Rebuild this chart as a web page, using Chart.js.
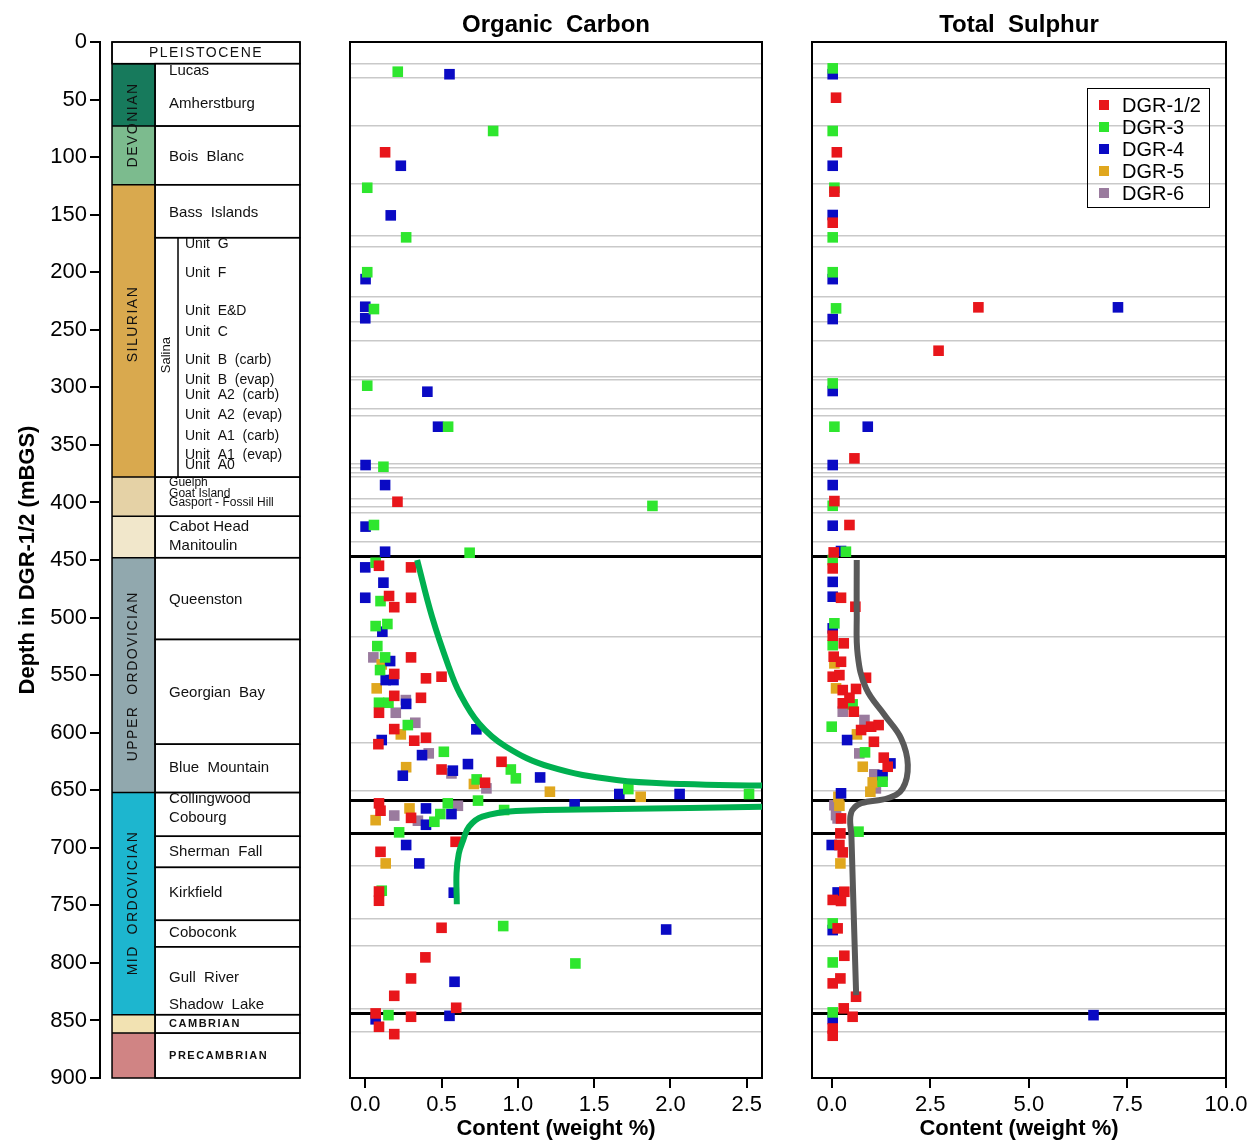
<!DOCTYPE html>
<html>
<head>
<meta charset="utf-8">
<title>DGR organic carbon and total sulphur</title>
<script src="https://cdn.jsdelivr.net/npm/chart.js@4.4.1/dist/chart.umd.min.js"></script>
<style>
  body { margin: 0; background: #fff; }
  #wrap { position: relative; width: 1252px; height: 1143px; overflow: hidden; }
  #wrap canvas { position: absolute; top: 0; }
  #legend { position: absolute; left: 1087px; top: 88px; width: 123px; height: 120px;
            border: 1.5px solid #000; box-sizing: border-box; padding-top: 5px;
            font: 20px 'Liberation Sans', Arial, sans-serif; color: #000; }
  #legend .item { position: relative; height: 22px; line-height: 22px; padding-left: 34px; }
  #legend .item span { position: absolute; left: 11px; top: 6px; width: 10px; height: 10px; }
</style>
</head>
<body>
<div id="wrap">
  <canvas id="column" width="305" height="1143" style="left:0"></canvas>
  <canvas id="organic" width="480" height="1143" style="left:300px"></canvas>
  <canvas id="sulphur" width="472" height="1143" style="left:780px"></canvas>
  <div id="legend"></div>
</div>
<script>
// ---- data -------------------------------------------------------------
const wells = ['DGR-1/2', 'DGR-3', 'DGR-4', 'DGR-5', 'DGR-6'];

// organic carbon, [weight %, depth m]
const orgDgr12 = [[0.13,95.8],[0.211,399.4],[0.09,455],[0.3,456.4],[0.156,481.3],[0.3,482.8],[0.19,491],
  [0.3,534.6],[0.19,549],[0.398,552.8],[0.5,551.4],[0.19,568],[0.365,569.7],[0.09,582.7],[0.19,596.9],
  [0.398,604.4],[0.321,607],[0.086,610],[0.5,632],[0.893,625.3],[0.785,643.5],[0.09,661.4],[0.1,667.8],
  [0.3,674],[0.592,694.8],[0.1,703.5],[0.09,738],[0.09,746],[0.5,769.5],[0.394,795.2],[0.3,813.5],
  [0.19,828.6],[0.596,839],[0.068,843.9],[0.3,846.8],[0.09,855.5],[0.19,861.9]];
const orgDgr3 = [[0.213,25.8],[0.838,77.3],[0.013,126.6],[0.268,169.7],[0.013,200],[0.057,232],[0.013,298.6],
  [0.543,334.2],[0.119,369],[1.882,403],[0.057,419.6],[0.684,443.7],[0.068,452.4],[0.1,485.7],[0.068,507.4],
  [0.145,505.6],[0.079,524.8],[0.13,534.6],[0.097,545.6],[0.09,574],[0.152,574],[0.279,593.4],[0.515,616.6],
  [0.954,632],[0.987,639.7],[0.73,640.6],[1.724,649],[2.515,653.3],[0.492,670.7],[0.453,677.4],[0.541,661.4],
  [0.739,659],[0.91,667.2],[0.222,686.6],[0.108,737.3],[0.904,768],[1.377,800.5],[0.152,845.4]];
const orgDgr4 = [[0.552,28],[0.233,107.5],[0.167,150.6],[0.002,206],[0,230],[0,240],[0.407,303.8],[0.477,334.2],
  [0.002,367.5],[0.13,384.9],[0.002,421],[0.13,442.8],[0,456.4],[0.119,469.7],[0,482.8],[0.112,512.3],
  [0.163,537.8],[0.134,554.3],[0.185,554.3],[0.268,575],[0.728,597.1],[0.108,606.4],[0.372,619.5],
  [0.246,637.4],[0.574,633],[0.673,627.3],[1.146,638.9],[1.665,653.3],[2.06,653.3],[0.398,665.8],[0.398,680],
  [0.565,670.7],[1.372,662.3],[0.268,697.6],[0.354,713.6],[0.58,739],[1.972,771],[0.585,816.4],[0.068,849],
  [0.552,846]];
const orgDgr5 = [[0.108,540.7],[0.075,561.5],[0.233,601.5],[0.268,630],[0.712,644.6],[1.21,651.3],[1.805,655.7],
  [0.29,665.8],[0.068,676],[0.134,713.6]];
const orgDgr6 = [[0.053,534.6],[0.266,571.7],[0.2,582.7],[0.328,591.4],[0.416,618],[0.565,635.4],[0.794,648.4],
  [0.19,672],[0.345,676.5],[0.607,663.5]];

// total sulphur, [weight %, depth m]
const sulDgr12 = [[0.11,48.4],[0.13,95.8],[0.068,130],[0.025,157],[3.72,230.5],[2.71,268.2],[0.576,361.7],
  [0.068,398.8],[0.45,419.6],[0.05,443.4],[0.025,457.3],[0.236,482.8],[0.6,490.6],[0.025,515.8],[0.305,522.4],
  [0.05,534],[0.236,538.4],[0.025,551.4],[0.195,550],[0.87,552.3],[0.28,563],[0.617,562],[0.45,569.7],
  [0.28,574.5],[0.56,581.8],[1.0,594.8],[1.19,593.4],[0.745,597.7],[1.07,607.9],[1.32,621.7],[1.42,629.6],
  [0.236,674.5],[0.22,687.5],[0.28,704],[0.195,697.6],[0.32,738.2],[0.025,745.3],[0.236,746.2],[0.15,770],
  [0.32,793.8],[0.22,813.5],[0.025,817.8],[0.617,829.4],[0.305,839.5],[0.53,846.8],[0.025,857],[0.025,863.3]];
const sulDgr3 = [[0.025,22.9],[0.025,77.3],[0.068,126.6],[0.025,169.7],[0.025,200],[0.11,231.4],[0.025,296.6],
  [0.068,334.2],[0.025,402.9],[0.36,442.8],[0.025,450],[0.068,505],[0.025,524],[0.53,575.4],[0,594.8],
  [0.845,617.1],[1.29,642.6],[0.68,686],[0.025,765.7],[0.025,799.6],[0.025,843]];
const sulDgr4 = [[0.025,28],[0.025,107.5],[0.025,150.3],[0.025,206],[7.26,230.5],[0.025,240.7],[0.025,303.2],
  [0.914,334.2],[0.025,367.5],[0.025,384.9],[0.025,420.2],[0.236,442.2],[0.025,469],[0.025,481.9],
  [0.025,509.4],[0.39,606.4],[1.49,626.7],[1.29,636.9],[0.236,652.7],[0,697.6],[0.15,738.8],[0.025,771.5],
  [0.025,848.8],[6.64,845.4]];
const sulDgr5 = [[0.068,539.8],[0.11,561.5],[0.64,601.5],[0.787,629.6],[1.04,643.2],[0.98,651.3],[0.17,655.7],
  [0.195,663.5],[0.22,713.6]];
const sulDgr6 = [[0.28,581.8],[0.83,589],[0.7,618],[1.08,636.2],[1.12,648.4],[0.068,663],[0.11,671.6],[0.15,674.5]];

// hand drawn trend curves
const orgTrendUpper = [[0.34,450],[0.437,499],[0.547,542.7],[0.62,566],[0.745,592],[0.92,612],[1.207,629.6],
  [1.647,641.2],[2.086,644.6],[2.6,646]];
const orgTrendLower = [[2.6,664.3],[1.647,666.4],[0.987,668],[0.767,673],[0.68,681.7],[0.64,694],[0.613,705],
  [0.598,722],[0.6,749]];
const sulTrend = [[0.635,450],[0.635,495],[0.66,532.6],[0.87,561.5],[1.34,584.7],[1.76,605],[1.93,628],
  [1.8,648.4],[1.42,657],[0.745,661.4],[0.49,670],[0.5,690],[0.62,828]];

// ticks
const depthStep = 50;
const orgTicks = [0, 0.5, 1.0, 1.5, 2.0, 2.5];
const sulTicks = [0, 2.5, 5.0, 7.5, 10.0];

// formation contacts drawn across the panels
const contactDepths = [19, 30.7, 73, 123.4, 168.5, 177.8, 221.5, 243, 259.8, 290.8, 293, 319, 325, 366.6, 369.8,
  374, 377.6, 396.5, 403.7, 409, 434, 517, 608.4, 650.5, 716, 761.4, 785.4, 839.5, 859.9];
const majorDepths = [446.8, 659, 687.8, 844];

// stratigraphic column
const stripTops    = [18.8, 73, 124, 378, 412, 448, 652, 845, 861];
const stripBottoms = [73, 124, 378, 412, 448, 652, 845, 861, 900];
const boxTops      = [18.8, 73, 124, 170, 378, 412, 448, 519, 610, 652, 690, 717, 763, 786, 845, 861];
const boxBottoms   = [73, 124, 170, 378, 412, 448, 519, 610, 652, 690, 717, 763, 786, 845, 861, 900];
const periodNames  = ['DEVONIAN', 'SILURIAN', 'UPPER  ORDOVICIAN', 'MID  ORDOVICIAN'];
const periodMids   = [72, 245, 551, 748];
const formationNames  = ['Lucas', 'Amherstburg', 'Bois  Blanc', 'Bass  Islands', 'Cabot Head', 'Manitoulin',
  'Queenston', 'Georgian  Bay', 'Blue  Mountain', 'Collingwood', 'Cobourg', 'Sherman  Fall', 'Kirkfield',
  'Coboconk', 'Gull  River', 'Shadow  Lake'];
const formationDepths = [25, 54, 100, 148, 421, 438, 485, 565, 631, 657.7, 674, 703.7, 739, 774, 813, 836.7];
const crampedNames  = ['Guelph', 'Goat Island', 'Gasport - Fossil Hill'];
const crampedDepths = [382.5, 392.5, 400.5];
const unitNames  = ['Unit  G', 'Unit  F', 'Unit  E&D', 'Unit  C', 'Unit  B  (carb)', 'Unit  B  (evap)',
  'Unit  A2  (carb)', 'Unit  A2  (evap)', 'Unit  A1  (carb)', 'Unit  A1  (evap)', 'Unit  A0'];
const unitDepths = [175.5, 200.7, 233.7, 252, 276, 293.6, 306.7, 324, 342, 359, 367.5];
const capsNames  = ['PLEISTOCENE', 'CAMBRIAN', 'PRECAMBRIAN'];
const capsDepths = [9.4, 853, 881];
const salinaMid  = 272;

// ---- styles -----------------------------------------------------------
const NARROW = "'Liberation Sans Narrow', 'Liberation Sans', Arial, sans-serif";
const SANS = "'Liberation Sans', Arial, sans-serif";
const wellColors = ['#e8161b', '#2ee62e', '#0a0ac4', '#e0a71e', '#9a7b9e'];
const stripColors = ['#177a5c', '#7cbb8e', '#d9a94e', '#e5d2a6', '#f1e7cb', '#91a8ae', '#1db6cf', '#f2e2b2', '#d08484'];
const STRIP_RIGHT = 0.229, SALINA_RIGHT = 0.351;

const pts = arr => arr.map(([v, d]) => ({ x: v, y: d }));

const columnPlugin = {
  id: 'column',
  afterDraw(chart) {
    const { ctx, scales: { x, y } } = chart;
    const px = v => x.getPixelForValue(v);
    const py = d => y.getPixelForValue(d);
    ctx.save();
    ctx.strokeStyle = '#000';
    ctx.lineWidth = 1.5;
    stripTops.forEach((t, i) => {
      ctx.fillStyle = stripColors[i];
      ctx.fillRect(px(0), py(t), px(STRIP_RIGHT) - px(0), py(stripBottoms[i]) - py(t));
    });
    ctx.strokeRect(px(0), py(0), px(1) - px(0), py(900) - py(0));
    ctx.strokeRect(px(0), py(0), px(1) - px(0), py(18.8) - py(0));
    [18.8, 73, 124, 378, 412, 448, 652, 845, 861].forEach(d => {
      ctx.beginPath(); ctx.moveTo(px(0), py(d)); ctx.lineTo(px(STRIP_RIGHT), py(d)); ctx.stroke();
    });
    ctx.beginPath(); ctx.moveTo(px(STRIP_RIGHT), py(18.8)); ctx.lineTo(px(STRIP_RIGHT), py(900)); ctx.stroke();
    boxTops.forEach((t, i) => {
      ctx.strokeRect(px(STRIP_RIGHT), py(t), px(1) - px(STRIP_RIGHT), py(boxBottoms[i]) - py(t));
    });
    ctx.beginPath(); ctx.moveTo(px(SALINA_RIGHT), py(170)); ctx.lineTo(px(SALINA_RIGHT), py(378)); ctx.stroke();

    ctx.fillStyle = '#111';
    ctx.textBaseline = 'middle';
    // period names, rotated
    ctx.font = '14px ' + SANS;
    ctx.letterSpacing = '1.5px';
    ctx.textAlign = 'center';
    periodNames.forEach((n, i) => {
      ctx.save();
      ctx.translate((px(0) + px(STRIP_RIGHT)) / 2, py(periodMids[i]));
      ctx.rotate(-Math.PI / 2);
      ctx.fillText(n, 0, 0);
      ctx.restore();
    });
    ctx.letterSpacing = '0px';
    ctx.font = '13px ' + SANS;
    ctx.save();
    ctx.translate((px(STRIP_RIGHT) + px(SALINA_RIGHT)) / 2, py(salinaMid));
    ctx.rotate(-Math.PI / 2);
    ctx.fillText('Salina', 0, 0);
    ctx.restore();
    // caps labels
    ctx.font = 'bold 11px ' + SANS;
    ctx.letterSpacing = '1.5px';
    ctx.textAlign = 'left';
    ctx.fillText(capsNames[1], px(STRIP_RIGHT) + 14, py(capsDepths[1]));
    ctx.fillText(capsNames[2], px(STRIP_RIGHT) + 14, py(capsDepths[2]));
    ctx.font = '14px ' + SANS;
    ctx.textAlign = 'center';
    ctx.fillText(capsNames[0], (px(0) + px(1)) / 2, py(capsDepths[0]));
    ctx.letterSpacing = '0px';
    // formations
    ctx.textAlign = 'left';
    ctx.font = '15px ' + SANS;
    formationNames.forEach((n, i) => ctx.fillText(n, px(STRIP_RIGHT) + 14, py(formationDepths[i])));
    ctx.font = '12px ' + SANS;
    crampedNames.forEach((n, i) => ctx.fillText(n, px(STRIP_RIGHT) + 14, py(crampedDepths[i])));
    ctx.font = '14px ' + SANS;
    unitNames.forEach((n, i) => ctx.fillText(n, px(SALINA_RIGHT) + 7, py(unitDepths[i])));
    ctx.restore();
  }
};

const framePlugin = {
  id: 'frame',
  beforeDatasetsDraw(chart) {
    const { ctx, chartArea: a } = chart;
    ctx.save();
    ctx.strokeStyle = '#000';
    ctx.lineWidth = 2;
    ctx.strokeRect(a.left, a.top, a.right - a.left, a.bottom - a.top);
    ctx.restore();
  }
};

// ---- charts -----------------------------------------------------------
new Chart(document.getElementById('column'), {
  type: 'scatter',
  data: { datasets: [] },
  options: {
    responsive: false,
    animation: false,
    layout: { padding: { top: 42, bottom: 65, left: 0, right: 5 } },
    plugins: { legend: { display: false }, tooltip: { enabled: false } },
    scales: {
      x: { type: 'linear', display: false, min: -0.064, max: 1 },
      y: {
        type: 'linear', reverse: true, min: 0, max: 900,
        afterFit: s => { s.width = 100; },
        ticks: { stepSize: depthStep, color: '#000', padding: 3, font: { family: NARROW, size: 22 } },
        grid: { drawOnChartArea: false, drawTicks: true, tickLength: 10, color: '#000', lineWidth: 2 },
        border: { display: true, color: '#000', width: 2 },
        title: { display: true, text: 'Depth in DGR-1/2 (mBGS)', color: '#000',
                 font: { family: NARROW, size: 22, weight: 'bold' }, padding: { top: 15, bottom: 0 } }
      }
    }
  },
  plugins: [columnPlugin]
});

function panel(id, title, sets, trends, trendColor, xMin, xMax, ticks, padL, padR) {
  const datasets = wells.map((w, i) => ({
    label: w,
    data: pts(sets[i]),
    backgroundColor: wellColors[i],
    pointStyle: 'rect',
    pointRadius: 7.5,
    borderWidth: 0
  }));
  trends.forEach(t => datasets.push({
    label: 'trend',
    data: pts(t),
    showLine: true,
    pointRadius: 0,
    borderColor: trendColor,
    borderWidth: 6,
    tension: 0.4,
    order: -1
  }));
  return new Chart(document.getElementById(id), {
    type: 'scatter',
    data: { datasets },
    options: {
      responsive: false,
      animation: false,
      layout: { padding: { top: 0, bottom: 0, left: padL, right: padR } },
      plugins: {
        legend: { display: false },
        tooltip: { enabled: false },
        title: { display: true, text: title, color: '#000',
                 font: { family: NARROW, size: 24, weight: 'bold', lineHeight: 1.25 },
                 padding: { top: 10, bottom: 2 } }
      },
      scales: {
        x: {
          type: 'linear', min: xMin, max: xMax,
          afterBuildTicks: s => { s.ticks = ticks.map(v => ({ value: v })); },
          afterFit: s => { s.height = 65; },
          ticks: { color: '#000', padding: 4, font: { family: NARROW, size: 22 },
                   callback: v => Number(v).toFixed(1) },
          grid: { drawOnChartArea: false, drawTicks: true, tickLength: 10, color: '#000', lineWidth: 2 },
          border: { display: false },
          title: { display: true, text: 'Content (weight %)', color: '#000',
                   font: { family: NARROW, size: 22, weight: 'bold' }, padding: { top: 0, bottom: 1 } }
        },
        y: {
          type: 'linear', reverse: true, min: 0, max: 900,
          afterBuildTicks: s => { s.ticks = contactDepths.concat(majorDepths).map(v => ({ value: v })); },
          afterFit: s => { s.width = 0; },
          ticks: { display: false },
          border: { display: false },
          grid: {
            drawTicks: false,
            color: c => majorDepths.includes(c.tick.value) ? '#000' : '#c9c9c9',
            lineWidth: c => majorDepths.includes(c.tick.value) ? 3 : 1.5
          }
        }
      }
    },
    plugins: [framePlugin]
  });
}

panel('organic', 'Organic  Carbon', [orgDgr12, orgDgr3, orgDgr4, orgDgr5, orgDgr6],
      [orgTrendUpper, orgTrendLower], '#00b050', -0.1, 2.6, orgTicks, 50, 18);
const sulChart = panel('sulphur', 'Total  Sulphur', [sulDgr12, sulDgr3, sulDgr4, sulDgr5, sulDgr6],
      [sulTrend], '#595959', -0.5, 10, sulTicks, 32, 26);

// legend from the sulphur chart's well datasets
const legend = document.getElementById('legend');
sulChart.data.datasets.filter(d => !d.showLine).forEach(d => {
  const row = document.createElement('div');
  row.className = 'item';
  const sw = document.createElement('span');
  sw.style.background = d.backgroundColor;
  row.appendChild(sw);
  row.appendChild(document.createTextNode(d.label));
  legend.appendChild(row);
});
</script>
</body>
</html>
